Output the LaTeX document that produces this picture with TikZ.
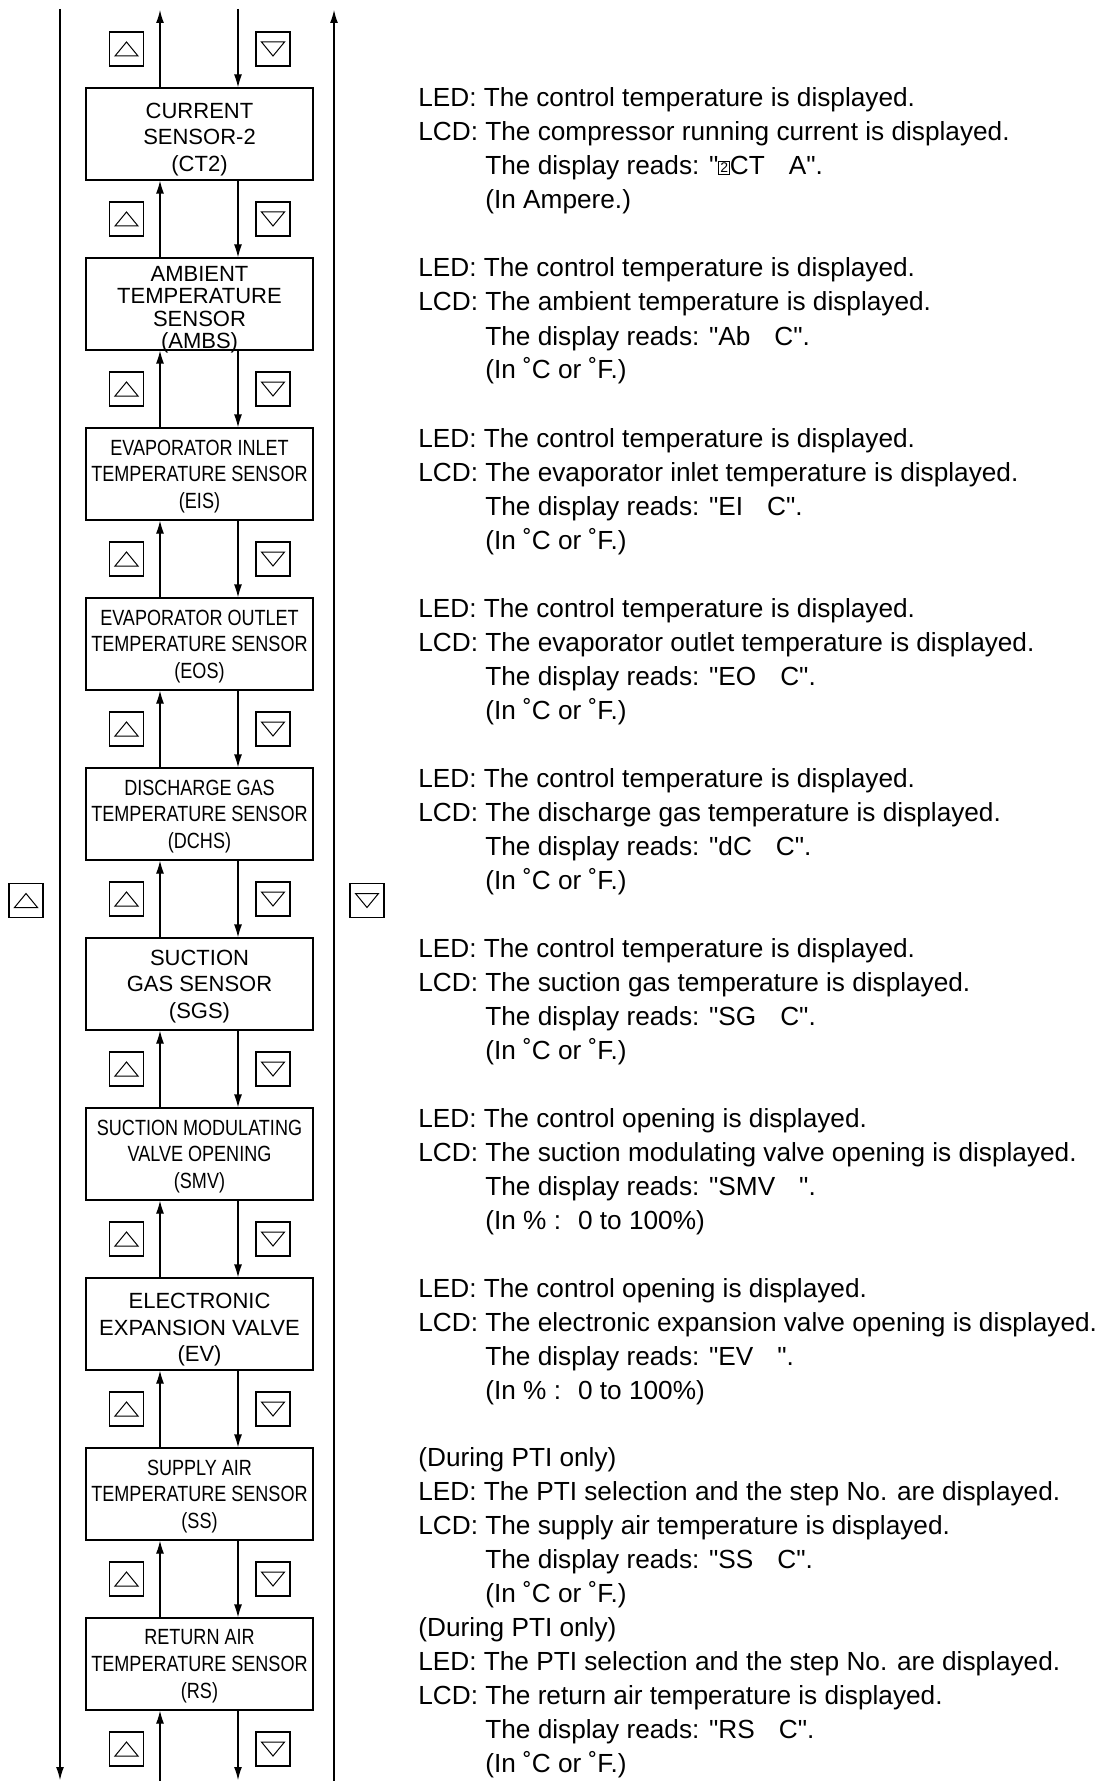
\documentclass[tikz,border=0pt]{standalone}
\usepackage{fontspec}
\setmainfont{Liberation Sans}
\newfontfamily\estrecha[FakeStretch=0.82]{Liberation Sans}
\usepackage{tikz}
\usetikzlibrary{
	arrows.meta,
	calc
}
\newcommand{\sangria}{\hspace*{33.5pt}}
\newcommand{\hueco}{\hspace{12pt}}
\newcommand{\comilla}{\textquotedbl}
\newcommand{\dosRecuadro}{\raisebox{1.2pt}{\setlength{\fboxsep}{0.6pt}\setlength{\fboxrule}{0.3pt}\fbox{\fontsize{7}{7}\selectfont 2}}}
\tikzset{
	sensor/.style={
		draw,
		line width=0.6pt,
		minimum width=113.5pt,
		minimum height=46pt,
		align=center,
		inner sep=1pt,
		text depth=0pt,
		font=\fontsize{11}{13.3}\selectfont
	},
	sensorBajo/.style={
		sensor,
		text height=37.6pt
	},
	sensorAlto/.style={
		sensor,
		inner ysep=0pt,
		text height=44.6pt,
		font=\fontsize{11}{11.2}\selectfont
	},
	sensorEstrecho/.style={
		sensor,
		font=\estrecha\fontsize{11}{13.3}\selectfont
	},
	tecla/.style={
		draw,
		line width=0.6pt,
		minimum size=17pt,
		inner sep=0pt
	},
	teclaSube/.style={
		tecla,
		path picture={
			\draw[line width=0.5pt] ([shift={(-5.75pt,-3.5pt)}]path picture bounding box.center) -- ([shift={(5.75pt,-3.5pt)}]path picture bounding box.center) -- ([shift={(0pt,3.5pt)}]path picture bounding box.center) -- cycle;
		}
	},
	teclaBaja/.style={
		tecla,
		path picture={
			\draw[line width=0.5pt] ([shift={(-5.75pt,3.5pt)}]path picture bounding box.center) -- ([shift={(5.75pt,3.5pt)}]path picture bounding box.center) -- ([shift={(0pt,-3.5pt)}]path picture bounding box.center) -- cycle;
		}
	},
	flecha/.style={
		-{Latex[length=6.5pt,width=4pt]},
		line width=0.6pt
	},
	descripcion/.style={
		anchor=base west,
		align=left,
		inner sep=0pt,
		font=\fontsize{13.1}{17}\selectfont
	}
}

\begin{document}
\begin{tikzpicture}[x=0.5pt,y=-0.5pt]
		\useasboundingbox (0,0) rectangle (1105,1781);
		% extremos libres de las lineas
		\coordinate (izqArriba) at (60,9);
		\coordinate (izqAbajo) at (60,1780);
		\coordinate (subeArriba) at (160,10);
		\coordinate (subeAbajo) at (160,1781);
		\coordinate (bajaArriba) at (238,9);
		\coordinate (bajaAbajo) at (238,1780);
		\coordinate (derArriba) at (334,10);
		\coordinate (derAbajo) at (334,1781);
		% sensores
		\node[sensorBajo] (s1) at (199.5,134) {CURRENT\\SENSOR-2\\(CT2)};
		\node[sensorAlto] (s2) at (199.5,304) {AMBIENT\\TEMPERATURE\\SENSOR\\(AMBS)};
		\node[sensorEstrecho] (s3) at (199.5,474) {EVAPORATOR INLET\\TEMPERATURE SENSOR\\(EIS)};
		\node[sensorEstrecho] (s4) at (199.5,644) {EVAPORATOR OUTLET\\TEMPERATURE SENSOR\\(EOS)};
		\node[sensorEstrecho] (s5) at (199.5,814) {DISCHARGE GAS\\TEMPERATURE SENSOR\\(DCHS)};
		\node[sensor] (s6) at (199.5,984) {SUCTION\\GAS SENSOR\\(SGS)};
		\node[sensorEstrecho] (s7) at (199.5,1154) {SUCTION MODULATING\\VALVE OPENING\\(SMV)};
		\node[sensorBajo] (s8) at (199.5,1324) {ELECTRONIC\\EXPANSION VALVE\\(EV)};
		\node[sensorEstrecho] (s9) at (199.5,1494) {SUPPLY AIR\\TEMPERATURE SENSOR\\(SS)};
		\node[sensorEstrecho] (s10) at (199.5,1664) {RETURN AIR\\TEMPERATURE SENSOR\\(RS)};
		% teclas
		\foreach \j in {0,...,10}{
			\node[teclaSube] (ts\j) at (126.5,{49+170*\j}) {};
			\node[teclaBaja] (tb\j) at (273,{49+170*\j}) {};
		}
		\node[teclaSube] (teclaIzq) at (26,900.5) {};
		\node[teclaBaja] (teclaDer) at (367,900.5) {};
		% flechas
		\draw[flecha] (izqArriba) -- (izqAbajo);
		\draw[flecha] (derAbajo) -- (derArriba);
		\draw[flecha] (s1.north -| subeArriba) -- (subeArriba);
		\draw[flecha] (bajaArriba) -- (s1.north -| bajaArriba);
		\foreach \a/\b in {s1/s2,s2/s3,s3/s4,s4/s5,s5/s6,s6/s7,s7/s8,s8/s9,s9/s10}{
			\draw[flecha] (\b.north -| subeArriba) -- (\a.south -| subeArriba);
			\draw[flecha] (\a.south -| bajaArriba) -- (\b.north -| bajaArriba);
		}
		\draw[flecha] (subeAbajo) -- (s10.south -| subeAbajo);
		\draw[flecha] (s10.south -| bajaAbajo) -- (bajaAbajo);
		% descripciones (ancladas en la linea base de la ultima linea)
		\node[descripcion] (d1) at (418,209) {LED: The control temperature is displayed.\\LCD: The compressor running current is displayed.\\\sangria The display reads: \comilla\dosRecuadro CT\hueco A\comilla.\\\sangria (In Ampere.)};
		\node[descripcion] (d2) at (418,379) {LED: The control temperature is displayed.\\LCD: The ambient temperature is displayed.\\\sangria The display reads: \comilla Ab\hueco C\comilla.\\\sangria (In ˚C or ˚F.)};
		\node[descripcion] (d3) at (418,549) {LED: The control temperature is displayed.\\LCD: The evaporator inlet temperature is displayed.\\\sangria The display reads: \comilla EI\hueco C\comilla.\\\sangria (In ˚C or ˚F.)};
		\node[descripcion] (d4) at (418,719) {LED: The control temperature is displayed.\\LCD: The evaporator outlet temperature is displayed.\\\sangria The display reads: \comilla EO\hueco C\comilla.\\\sangria (In ˚C or ˚F.)};
		\node[descripcion] (d5) at (418,889) {LED: The control temperature is displayed.\\LCD: The discharge gas temperature is displayed.\\\sangria The display reads: \comilla dC\hueco C\comilla.\\\sangria (In ˚C or ˚F.)};
		\node[descripcion] (d6) at (418,1059) {LED: The control temperature is displayed.\\LCD: The suction gas temperature is displayed.\\\sangria The display reads: \comilla SG\hueco C\comilla.\\\sangria (In ˚C or ˚F.)};
		\node[descripcion] (d7) at (418,1229) {LED: The control opening is displayed.\\LCD: The suction modulating valve opening is displayed.\\\sangria The display reads: \comilla SMV\hueco\comilla.\\\sangria (In \% :~ 0 to 100\%)};
		\node[descripcion] (d8) at (418,1399) {LED: The control opening is displayed.\\LCD: The electronic expansion valve opening is displayed.\\\sangria The display reads: \comilla EV\hueco\comilla.\\\sangria (In \% :~ 0 to 100\%)};
		\node[descripcion] (d9) at (418,1602) {(During PTI only)\\LED: The PTI selection and the step No. are displayed.\\LCD: The supply air temperature is displayed.\\\sangria The display reads: \comilla SS\hueco C\comilla.\\\sangria (In ˚C or ˚F.)};
		\node[descripcion] (d10) at (418,1772) {(During PTI only)\\LED: The PTI selection and the step No. are displayed.\\LCD: The return air temperature is displayed.\\\sangria The display reads: \comilla RS\hueco C\comilla.\\\sangria (In ˚C or ˚F.)};
	\end{tikzpicture}
\end{document}
